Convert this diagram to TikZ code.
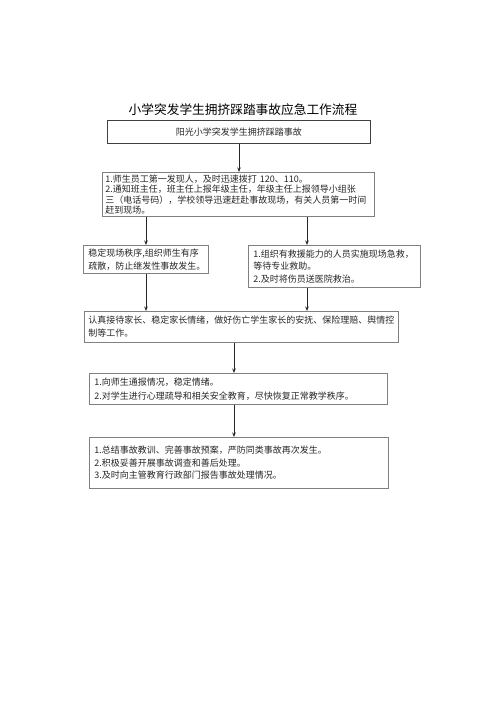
\documentclass[tikz,border=0pt]{standalone}
\usepackage{fontspec}
\newfontfamily\cjk{Noto Sans CJK SC}
\usetikzlibrary{arrows.meta}
\tikzset{
  box/.style={draw=black!50, line width=0.8pt, anchor=north west, align=left, inner ysep=2pt,
    font=\cjk\fontsize{9pt}{13pt}\selectfont, text=black!85},
  arr/.style={draw=black!85, line width=0.9pt, -{Stealth[length=4.5pt,width=3.5pt]}}
}
\begin{document}
\begin{tikzpicture}[x=1pt,y=-1pt]
\useasboundingbox (0,0) rectangle (500,707);
\node[font=\cjk\fontsize{12.7pt}{14pt}\selectfont] (title) at (243,110) {小学突发学生拥挤踩踏事故应急工作流程};
\node[box, draw=black!75, align=center, minimum width=263pt, minimum height=23pt, inner xsep=3pt] (b1) at (107,120) {阳光小学突发学生拥挤踩踏事故};
\node[box, minimum width=272pt, minimum height=43pt, inner xsep=3pt, text width=266pt,
  font=\cjk\fontsize{9pt}{10.5pt}\selectfont] (b2) at (102,172)
  {1.师生员工第一发现人，及时迅速拨打 120、110。\\2.通知班主任，班主任上报年级主任，年级主任上报领导小组张\\三（电话号码），学校领导迅速赶赴事故现场，有关人员第一时间\\赶到现场。};
\node[box, minimum width=125pt, minimum height=28pt, inner xsep=5pt, text width=115pt] (b3) at (83,245)
  {稳定现场秩序,组织师生有序\\疏散，防止继发性事故发生。};
\node[box, minimum width=172pt, minimum height=42pt, inner xsep=5pt, text width=162pt,
  font=\cjk\fontsize{9pt}{12.5pt}\selectfont] (b4) at (248,245)
  {1.组织有救援能力的人员实施现场急救，\\等待专业救助。\\2.及时将伤员送医院救治。};
\node[box, minimum width=314pt, minimum height=31pt, inner xsep=4pt, text width=306pt] (b5) at (84,311)
  {认真接待家长、稳定家长情绪，做好伤亡学生家长的安抚、保险理赔、舆情控\\制等工作。};
\node[box, minimum width=298pt, minimum height=31pt, inner xsep=5pt, text width=288pt,
  font=\cjk\fontsize{9pt}{14pt}\selectfont] (b6) at (89,373)
  {1.向师生通报情况，稳定情绪。\\2.对学生进行心理疏导和相关安全教育，尽快恢复正常教学秩序。};
\node[box, minimum width=299pt, minimum height=51pt, inner xsep=5pt, text width=289pt,
  font=\cjk\fontsize{9pt}{12.5pt}\selectfont] (b7) at (89,437)
  {1.总结事故教训、完善事故预案，严防同类事故再次发生。\\2.积极妥善开展事故调查和善后处理。\\3.及时向主管教育行政部门报告事故处理情况。};
\coordinate (xa) at (239,0);
\coordinate (xl) at (146,0);
\coordinate (xr) at (307,0);
\coordinate (xc) at (234,0);
\draw[arr] (b1.south -| xa) -- (b2.north -| xa);
\draw[arr] (b2.south -| xl) -- (b3.north -| xl);
\draw[arr] (b2.south -| xr) -- (b4.north -| xr);
\draw[arr] (b3.south -| xl) -- (b5.north -| xl);
\draw[arr] (b4.south -| xr) -- (b5.north -| xr);
\draw[arr] (b5.south -| xc) -- (b6.north -| xc);
\draw[arr] (b6.south -| xc) -- (b7.north -| xc);
\end{tikzpicture}
\end{document}
